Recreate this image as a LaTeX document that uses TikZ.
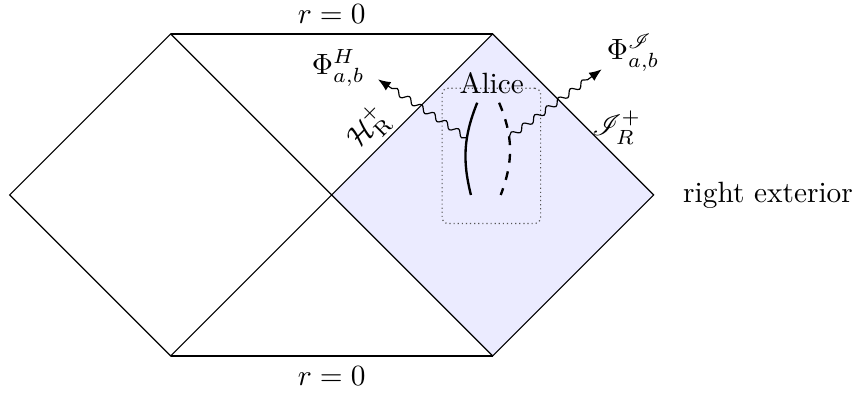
\documentclass[tikz,border=0pt]{standalone}
\usepackage{amsmath}
\usepackage{mathrsfs}
\usetikzlibrary{positioning, arrows.meta, decorations.pathmorphing}
\definecolor{extfill}{HTML}{EBEBFF}
\definecolor{boxline}{HTML}{555555}

\begin{document}
\begin{tikzpicture}[x=1.93cm, y=1.93cm,
    wave/.style={decorate, decoration={snake, amplitude=1pt, segment length=5pt, post length=1.3mm},
      -{Latex[length=1.5mm, width=1.2mm]}}]
  \useasboundingbox (-2.06,-1.236) rectangle (3.238,1.211);

  % corners of the diagram
  \coordinate (c) at (0,0);
  \coordinate (l) at (-2,0);
  \coordinate (r) at (2,0);
  \coordinate (tl) at (-1,1);
  \coordinate (tr) at (1,1);
  \coordinate (bl) at (-1,-1);
  \coordinate (br) at (1,-1);
  \coordinate (top) at (0,1);
  \coordinate (bot) at (0,-1);

  \fill[extfill] (c) -- (tr) -- (r) -- (br) -- cycle;
  \draw (l) -- (tl) -- (br) -- (r) -- (tr) -- (bl) -- cycle;
  \draw[thick] (tl) -- (tr);
  \draw[thick] (bl) -- (br);

  \node[above=0pt of top] (rtop) {$r=0$};
  \node[below=0pt of bot] (rbot) {$r=0$};
  \node[right=0.23cm of r] (ext) {right exterior};

  \node[rotate=45] (hplus) at (0.226,0.416) {$\mathcal{H}^+_{\mathrm{R}}$};
  \node (iplus) at (1.77,0.42) {$\mathscr{I}^+_R$};

  % Alice
  \node[draw=boxline, densely dotted, rounded corners=2pt, minimum width=1.18cm, minimum height=1.62cm] (alicebox) at (0.992,0.243) {};
  \node (alice) at (0.994,0.696) {Alice};
  \draw[thick] (0.904,0.573) to[bend right=18] coordinate[pos=0.38] (alicel) (0.865,0);
  \draw[thick, dashed] (1.04,0.573) to[bend left=22] coordinate[pos=0.37] (alicer) (1.05,0);

  \coordinate (hend) at (0.288,0.718);
  \coordinate (iend) at (1.677,0.78);
  \draw[wave] (alicel) -- (hend);
  \draw[wave] (alicer) -- (iend);
  \node (phih) at (0.041,0.787) {$\Phi^H_{a,b}$};
  \node (phii) at (1.873,0.88) {$\Phi^{\mathscr{I}}_{a,b}$};
\end{tikzpicture}
\end{document}
